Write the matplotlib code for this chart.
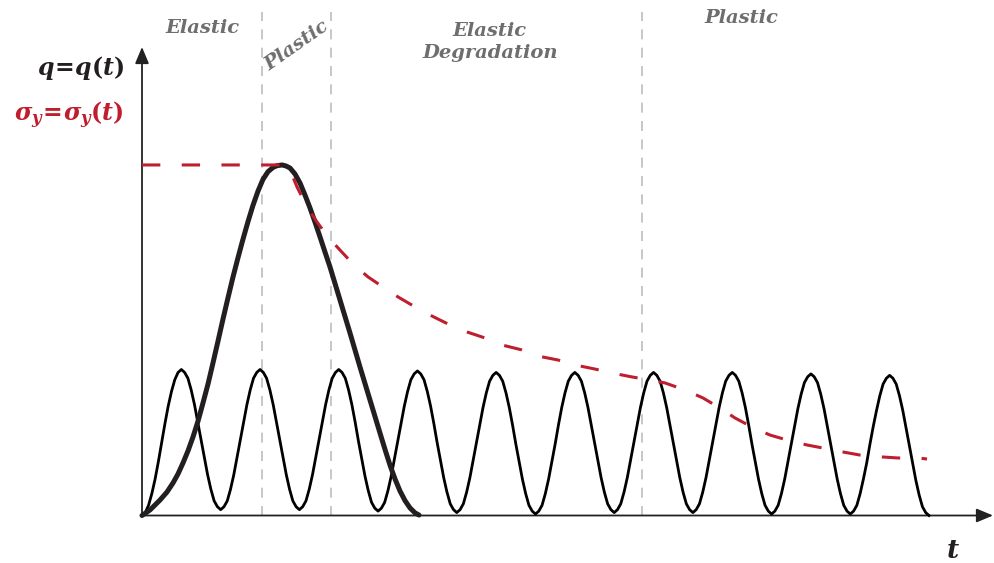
import numpy as np
import matplotlib.pyplot as plt

plt.rcParams['mathtext.fontset'] = 'custom'
plt.rcParams['mathtext.it'] = 'DejaVu Serif:italic:bold'
plt.rcParams['mathtext.rm'] = 'DejaVu Serif:bold'

# oscillating load q(t): one row per cycle, 24 samples per cycle (t step 1/24)
osc_cycles = [
    [0.00, 0.02, 0.07, 0.15, 0.25, 0.37, 0.50, 0.63, 0.75, 0.85, 0.93, 0.98, 1.00,
     0.98, 0.94, 0.86, 0.76, 0.64, 0.52, 0.40, 0.28, 0.18, 0.10, 0.06],
    [0.04, 0.06, 0.10, 0.18, 0.28, 0.40, 0.52, 0.64, 0.76, 0.86, 0.94, 0.98, 1.00,
     0.98, 0.94, 0.86, 0.76, 0.64, 0.52, 0.40, 0.28, 0.18, 0.10, 0.06],
    [0.04, 0.06, 0.10, 0.18, 0.28, 0.40, 0.52, 0.64, 0.76, 0.86, 0.94, 0.98, 1.00,
     0.98, 0.94, 0.86, 0.76, 0.64, 0.51, 0.39, 0.27, 0.17, 0.09, 0.05],
    [0.03, 0.05, 0.09, 0.17, 0.27, 0.39, 0.51, 0.63, 0.75, 0.85, 0.93, 0.97, 0.99,
     0.97, 0.93, 0.85, 0.75, 0.63, 0.50, 0.38, 0.26, 0.16, 0.08, 0.04],
    [0.02, 0.04, 0.08, 0.16, 0.26, 0.38, 0.50, 0.62, 0.74, 0.84, 0.92, 0.96, 0.98,
     0.96, 0.92, 0.84, 0.74, 0.62, 0.49, 0.37, 0.25, 0.15, 0.07, 0.03],
    [0.01, 0.03, 0.07, 0.15, 0.25, 0.37, 0.49, 0.62, 0.74, 0.84, 0.92, 0.96, 0.98,
     0.96, 0.92, 0.84, 0.74, 0.62, 0.50, 0.38, 0.26, 0.16, 0.08, 0.04],
    [0.02, 0.04, 0.08, 0.16, 0.26, 0.38, 0.50, 0.62, 0.74, 0.84, 0.92, 0.96, 0.98,
     0.96, 0.92, 0.84, 0.74, 0.62, 0.50, 0.38, 0.26, 0.16, 0.08, 0.04],
    [0.02, 0.04, 0.08, 0.16, 0.26, 0.38, 0.50, 0.62, 0.74, 0.84, 0.92, 0.96, 0.98,
     0.96, 0.92, 0.84, 0.74, 0.62, 0.49, 0.37, 0.25, 0.15, 0.07, 0.03],
    [0.01, 0.03, 0.07, 0.15, 0.25, 0.37, 0.49, 0.61, 0.73, 0.83, 0.91, 0.95, 0.97,
     0.95, 0.91, 0.83, 0.73, 0.61, 0.49, 0.37, 0.25, 0.15, 0.07, 0.03],
    [0.01, 0.03, 0.07, 0.15, 0.25, 0.36, 0.49, 0.61, 0.72, 0.82, 0.90, 0.94, 0.96,
     0.94, 0.90, 0.82, 0.72, 0.60, 0.48, 0.36, 0.24, 0.14, 0.06, 0.02],
]
osc_last = 0.00

# big load pulse
pulse_t = [0.000, 0.102, 0.229, 0.318, 0.394, 0.457, 0.521, 0.584, 0.648, 0.712,
           0.775, 0.839, 0.902, 0.966, 1.029, 1.093, 1.156, 1.220, 1.283, 1.347,
           1.410, 1.474, 1.537, 1.601, 1.665, 1.715, 1.779, 1.830, 1.881, 1.944,
           2.008, 2.071, 2.135, 2.198, 2.262, 2.325, 2.389, 2.516, 2.643, 2.770,
           2.897, 3.024, 3.088, 3.151, 3.215, 3.278, 3.342, 3.405, 3.469, 3.520]
pulse_q = [0.000, 0.038, 0.106, 0.161, 0.223, 0.284, 0.360, 0.442, 0.538, 0.647,
           0.771, 0.901, 1.045, 1.195, 1.345, 1.492, 1.633, 1.766, 1.892, 2.013,
           2.124, 2.222, 2.302, 2.355, 2.384, 2.396, 2.401, 2.394, 2.380, 2.339,
           2.277, 2.195, 2.106, 2.010, 1.908, 1.805, 1.702, 1.476, 1.250, 1.017,
           0.791, 0.565, 0.452, 0.345, 0.250, 0.168, 0.102, 0.052, 0.018, 0.003]

# yield stress sigma_y(t)
yield_t = [0.000, 1.804, 1.881, 1.970, 2.097, 2.224, 2.363, 2.516, 2.681, 2.872,
           3.062, 3.253, 3.494, 3.685, 3.914, 4.130, 4.358, 4.574, 4.828, 5.032,
           5.286, 5.502, 5.756, 5.972, 6.226, 6.455, 6.645, 6.899, 7.128, 7.344,
           7.535, 7.751, 7.980, 8.196, 8.450, 8.653, 8.907, 9.123, 9.403, 9.606,
           9.860, 9.975]
yield_q = [2.401, 2.401, 2.366, 2.250, 2.113, 2.010, 1.908, 1.818, 1.723, 1.634,
           1.565, 1.497, 1.421, 1.366, 1.305, 1.257, 1.216, 1.168, 1.134, 1.092,
           1.065, 1.031, 1.003, 0.976, 0.949, 0.928, 0.908, 0.860, 0.805, 0.736,
           0.668, 0.606, 0.551, 0.517, 0.483, 0.462, 0.435, 0.414, 0.401, 0.394,
           0.394, 0.387]

region_bounds = [1.525, 2.402, 6.353]
region_labels = ['Elastic', 'Plastic', 'Elastic\nDegradation', 'Plastic']

osc_q = np.concatenate([np.array(c) for c in osc_cycles] + [[osc_last]])
osc_t = np.linspace(0, len(osc_cycles), len(osc_q))

# pixel -> data helper for placing annotations
X0, Y0, SX, SY = 142, 515.5, 78.7, 146.0


def px(x, y):
    return (x - X0) / SX, (Y0 - y) / SY


fig = plt.figure(figsize=(9.94, 5.63), dpi=100)
ax = fig.add_axes([0, 0, 1, 1])
ax.set_xlim(px(0, 0)[0], px(994, 0)[0])
ax.set_ylim(px(0, 563)[1], px(0, 0)[1])
ax.axis('off')

grey = '#6e6e6e'
red = '#be1e2d'

for b in region_bounds:
    ax.plot([b, b], [0, px(0, 12)[1]], color='#bdbdbd', lw=1.2,
            dashes=(6, 5), zorder=1)

ax.plot(osc_t, osc_q, color='black', lw=2.0, zorder=3, solid_joinstyle='round')
ax.plot(pulse_t, pulse_q, color='#231f20', lw=3.6, zorder=4,
        solid_capstyle='round', solid_joinstyle='round')
ax.plot(yield_t, yield_q, color=red, lw=2.2, dashes=(6, 7), zorder=5)

arrow = dict(arrowstyle='-|>,head_length=1.0,head_width=0.42', color='#222222',
             lw=1.3, shrinkA=0, shrinkB=0)
ax.annotate('', xy=px(993, Y0), xytext=px(141, Y0), arrowprops=arrow, zorder=2)
ax.annotate('', xy=px(X0, 47), xytext=px(X0, Y0), arrowprops=arrow, zorder=2)

lab = dict(family='DejaVu Serif', style='italic', weight='bold', color=grey,
           fontsize=14, ha='center', va='center')
ax.text(*px(203, 28), region_labels[0], **lab)
ax.text(*px(297, 46), region_labels[1], rotation=35, **lab)
ax.text(*px(490, 42), region_labels[2], linespacing=1.3, **lab)
ax.text(*px(741, 18), region_labels[3], **lab)

ax.text(*px(124, 68), r'$q\!=\!q(t)$', fontsize=17, color='#231f20',
        ha='right', va='center')
ax.text(*px(124, 115), r'$\sigma_y\!=\!\sigma_y(t)$', fontsize=17, color=red,
        ha='right', va='center')
ax.text(*px(953, 551), r'$t$', fontsize=19, color='#231f20',
        ha='center', va='center')

fig.savefig('out.png', dpi=100)
